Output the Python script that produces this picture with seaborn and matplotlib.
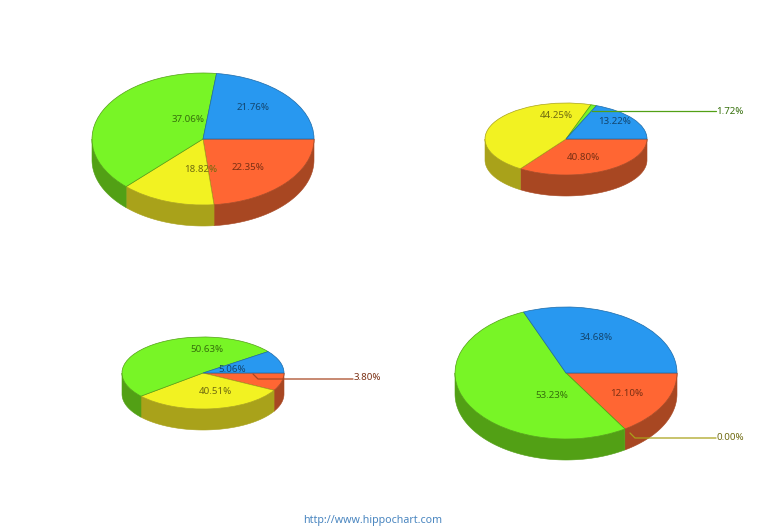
"""3D style pie panels rebuilt with seaborn / matplotlib."""

import matplotlib

matplotlib.use("Agg")

import matplotlib.pyplot as plt
import numpy as np
import seaborn as sns

WIDTH, HEIGHT = 764, 531

# slice order is clockwise from 3 o'clock
series_names = ["orange", "yellow", "green", "blue"]
values_top_left = [22.35, 18.82, 37.06, 21.76]
values_top_right = [40.80, 44.25, 1.72, 13.22]
values_bottom_left = [3.80, 40.51, 50.63, 5.06]
values_bottom_right = [12.10, 0.00, 53.23, 34.68]
footer_text = "http://www.hippochart.com"

top_colors = sns.color_palette(["#FF6633", "#F2F222", "#78F526", "#2898F0"])
side_colors = sns.color_palette(["#A84722", "#A9A21A", "#52A015", "#1C6AA8"])
text_colors = ["#7A3014", "#6F6A10", "#36700C", "#134670"]

# center x, center y, x radius, y radius, depth in pixels
DEPTH = 21
layouts = [
    (values_top_left, 203, 139, 111, 66),
    (values_top_right, 566, 139, 81, 36),
    (values_bottom_left, 203, 373, 81, 36),
    (values_bottom_right, 566, 373, 111, 66),
]

# label pixel centers, in slice order for each pie
label_positions = [
    [(248, 167), (201, 170), (188, 120), (253, 107)],
    [(583, 158), (556, 116), (730, 111), (615, 122)],
    [(367, 378), (215, 391), (207, 350), (232, 369)],
    [(627, 393), (730, 438), (552, 396), (596, 338)],
]
# leader lines: (slice index, list of pixel vertices)
leaders = [
    (2, [(592, 111), (716, 111)]),
    (0, [(253, 374), (258, 379), (353, 379)]),
    (1, [(630, 433), (635, 438), (716, 438)]),
]


def slice_edges(values, rx, ry):
    """Slices are true screen angles, so turn them into ellipse parameter angles."""
    screen = np.radians(np.concatenate([[0], np.cumsum(values)]) / np.sum(values) * 360)
    param = np.arctan2(np.sin(screen) / ry, np.cos(screen) / rx) % (2 * np.pi)
    param[0], param[-1] = 0, 2 * np.pi
    return param


def draw_pie(fig, values, cx, cy, rx, ry):
    pad = 2
    ax = fig.add_axes(
        [
            (cx - rx - pad) / WIDTH,
            1 - (cy + ry + DEPTH + pad) / HEIGHT,
            (2 * rx + 2 * pad) / WIDTH,
            (2 * ry + DEPTH + 2 * pad) / HEIGHT,
        ]
    )
    edges = slice_edges(values, rx, ry)
    wedges, _ = ax.pie(
        np.clip(np.diff(edges), 0, None),
        colors=top_colors,
        startangle=0,
        counterclock=False,
        radius=1,
        wedgeprops={"linewidth": 0.5, "zorder": 3},
    )
    for wedge, side in zip(wedges, side_colors):
        wedge.set_edgecolor(side)

    depth = DEPTH / ry
    for start, stop, side in zip(edges[:-1], edges[1:], side_colors):
        lo, hi = max(start, 0), min(stop, np.pi)
        if hi <= lo:
            continue
        t = np.linspace(lo, hi, 80)
        x, y = np.cos(t), -np.sin(t)
        ax.fill(
            np.concatenate([x, x[::-1]]),
            np.concatenate([y, y[::-1] - depth]),
            color=side,
            linewidth=0.4,
            zorder=1,
        )

    ax.set_aspect("auto")
    ax.set_xlim(-1 - pad / rx, 1 + pad / rx)
    ax.set_ylim(-1 - depth - pad / ry, 1 + pad / ry)
    ax.axis("off")


sns.set_theme(style="white")
plt.rcParams["font.family"] = ["Noto Sans", "DejaVu Sans"]

fig = plt.figure(figsize=(WIDTH / 100, HEIGHT / 100), dpi=100, facecolor="white")

for values, cx, cy, rx, ry in layouts:
    draw_pie(fig, values, cx, cy, rx, ry)

overlay = fig.add_axes([0, 0, 1, 1], zorder=5)
overlay.set_xlim(0, WIDTH)
overlay.set_ylim(HEIGHT, 0)
overlay.axis("off")

for slice_i, points in leaders:
    xs, ys = zip(*points)
    overlay.plot(xs, ys, color=side_colors[slice_i], linewidth=0.9)

for (values, *_), positions in zip(layouts, label_positions):
    for slice_i, (x, y) in enumerate(positions):
        overlay.text(
            x,
            y,
            f"{values[slice_i]:.2f}%",
            ha="center",
            va="center",
            fontsize=7.0,
            color=text_colors[slice_i],
        )

overlay.text(
    372.5, 521, footer_text, ha="center", va="center", fontsize=7.7, color="#4A86C0"
)

fig.savefig("out.png", dpi=100, facecolor="white")
